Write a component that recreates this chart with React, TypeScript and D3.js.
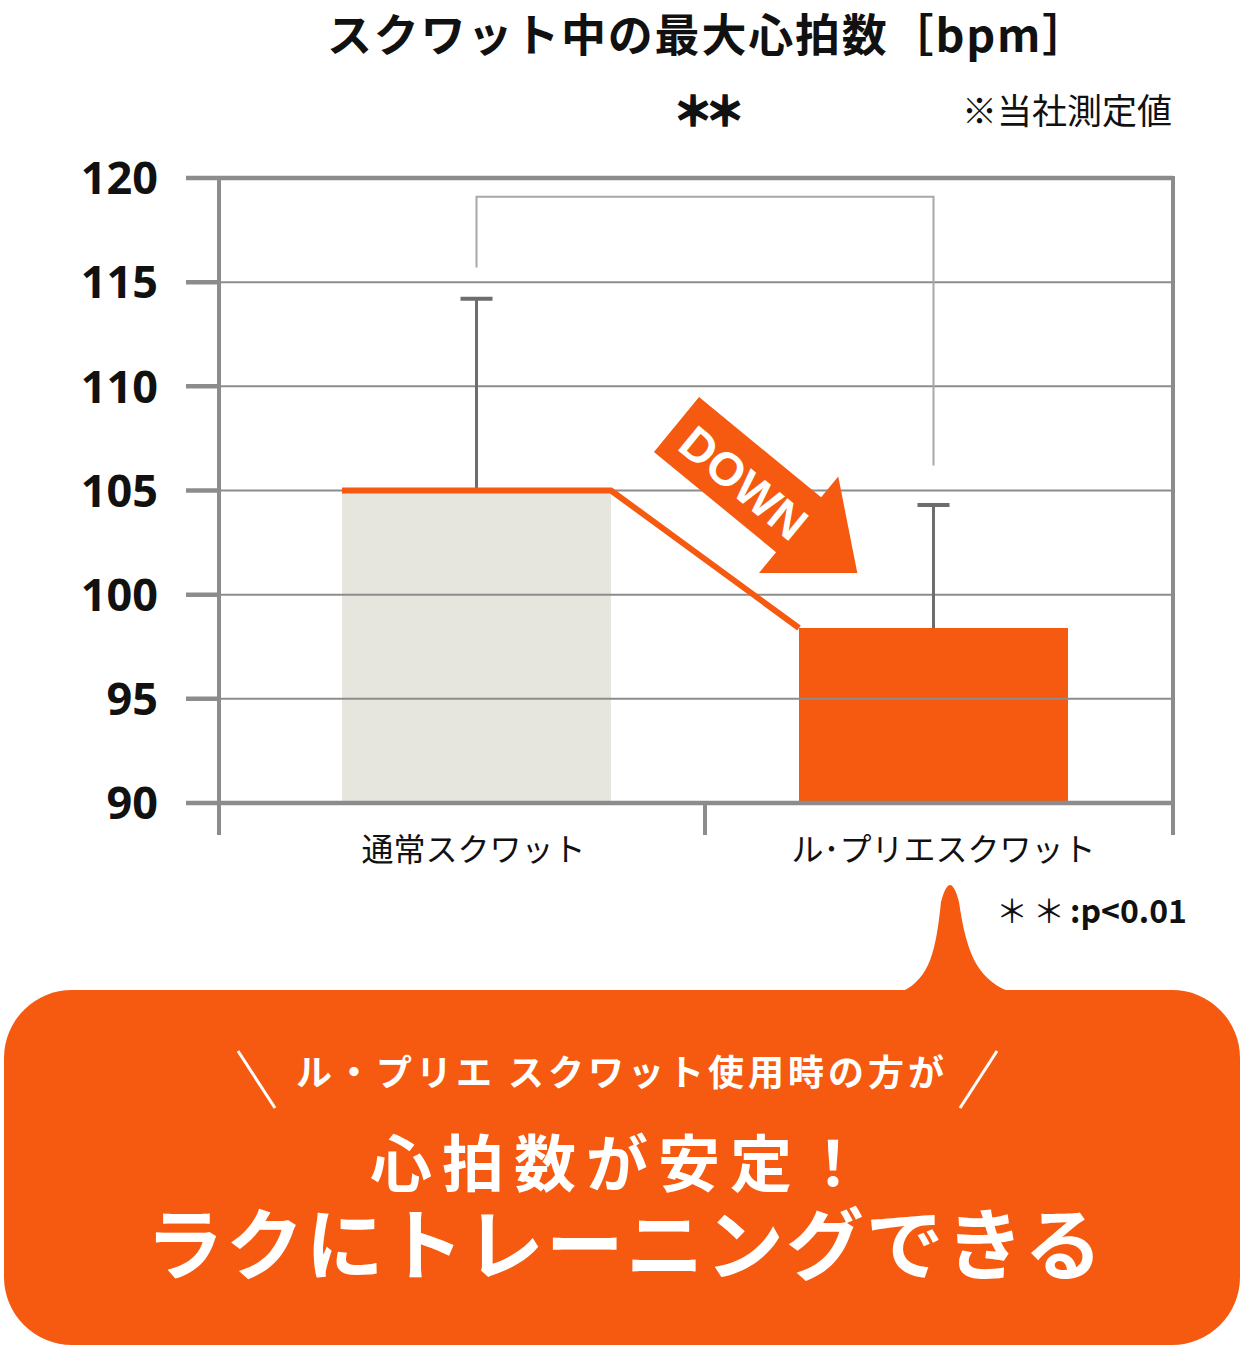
import React from "react";
import * as d3 from "d3";

// values
const categories = ["通常スクワット", "ル･プリエスクワット"];
const means = [105.0, 98.4];
const errors = [9.2, 5.9];
const yTicks = [90, 95, 100, 105, 110, 115, 120];
const bracketTop = 119.1;
const bracketLegs = [115.7, 106.2];

const W = 1245;
const H = 1348;
const ORANGE = "#f55a10";
const GRID = "#8c8c8c";
const JP = "'Noto Sans CJK JP', 'Noto Sans', sans-serif";
const LATIN = "'Noto Sans', 'Noto Sans CJK JP', sans-serif";

const frame = { left: 219, right: 1173, top: 178, bottom: 803 };
const barWidth = 269;

export default function App() {
  const y = d3.scaleLinear().domain([90, 120]).range([frame.bottom, frame.top]);
  const x = d3.scalePoint<string>().domain(categories).range([476.5, 933.5]);
  const mid = (x(categories[0])! + x(categories[1])!) / 2;

  const stepLine = d3
    .line<[number, number]>()
    .x((d) => d[0])
    .y((d) => y(d[1]));
  const linePts: [number, number][] = [
    [x(categories[0])! - barWidth / 2, means[0]],
    [x(categories[0])! + barWidth / 2, means[0]],
    [x(categories[1])! - barWidth / 2, means[1]],
  ];

  // DOWN arrow in its own frame, pointing along +x
  const arrow = d3.line()([
    [0, -35.5], [158, -35.5], [158, -62.5], [234, 0],
    [158, 62.5], [158, 35.5], [0, 35.5],
  ]) + "Z";

  const boxTop = 990;
  const tail = `M903,${boxTop + 1} C930,978 936,950 941,902 Q950,868 959,902 C966,950 976,978 1008,${boxTop + 1} Z`;

  return (
    <svg width={W} height={H} style={{ position: "absolute", left: 0, top: 0, background: "#fff" }}>
      {/* title */}
      <text x={708} y={36} dy="0.35em" textAnchor="middle" fontFamily={JP} fontWeight={700} fontSize={45} fill="#111" letterSpacing={1.8}>
        スクワット中の最大心拍数［bpm］
      </text>
      <text x={mid} y={112} dy="0.35em" textAnchor="middle" fontFamily={JP} fontWeight={900} fontSize={40} fill="#111" letterSpacing={-8}
        stroke="#111" strokeWidth={1.5}>
        ＊＊
      </text>
      <text x={1172} y={112} dy="0.35em" textAnchor="end" fontFamily={JP} fontSize={35} fill="#111">
        ※当社測定値
      </text>

      {/* bars */}
      {categories.map((c, i) => (
        <rect key={c} x={x(c)! - barWidth / 2} y={y(means[i])} width={barWidth}
          height={y(90) - y(means[i])} fill={i === 0 ? "#e6e6df" : ORANGE} />
      ))}

      {/* grid */}
      {yTicks.map((t) => (
        <g key={t}>
          <line x1={frame.left} x2={frame.right} y1={y(t)} y2={y(t)} stroke={GRID}
            strokeWidth={t === 90 || t === 120 ? 4.5 : 2} />
          <line x1={186} x2={frame.left} y1={y(t)} y2={y(t)} stroke={GRID} strokeWidth={4.5} />
          <text x={158} y={y(t)} dy="0.36em" textAnchor="end" fontFamily={LATIN} fontWeight={700} fontSize={45} fill="#111">
            {t}
          </text>
        </g>
      ))}
      <line x1={frame.left} x2={frame.left} y1={frame.top - 2} y2={835} stroke={GRID} strokeWidth={4} />
      <line x1={frame.right} x2={frame.right} y1={frame.top - 2} y2={835} stroke={GRID} strokeWidth={4} />
      <line x1={mid} x2={mid} y1={frame.bottom} y2={835} stroke={GRID} strokeWidth={4} />

      {/* error bars */}
      {categories.map((c, i) => {
        const cx = x(c)!;
        const top = y(means[i] + errors[i]);
        return (
          <g key={c} stroke="#6d6d6d">
            <line x1={cx} x2={cx} y1={y(means[i])} y2={top} strokeWidth={3} />
            <line x1={cx - 16} x2={cx + 16} y1={top} y2={top} strokeWidth={4} />
          </g>
        );
      })}

      {/* significance bracket */}
      <path
        d={`M${x(categories[0])},${y(bracketLegs[0])}V${y(bracketTop)}H${x(categories[1])}V${y(bracketLegs[1])}`}
        fill="none" stroke="#a8a8a8" strokeWidth={2} />

      {/* orange connector */}
      <path d={stepLine(linePts)!} fill="none" stroke={ORANGE} strokeWidth={6} strokeLinejoin="miter" />

      {/* DOWN arrow */}
      <g transform="translate(676.5,424.5) rotate(39.4)">
        <path d={arrow} fill={ORANGE} />
        <text x={89} y={2} dy="0.36em" textAnchor="middle" fontFamily="'Liberation Sans', Arial, sans-serif"
          fontWeight={700} fontSize={47} fill="#fff">
          DOWN
        </text>
      </g>

      {/* category labels */}
      {categories.map((c, i) => (
        <text key={c} x={x(c)! + (i === 0 ? -3 : 10)} y={850} dy="0.35em" textAnchor="middle" fontFamily={JP} fontSize={32} fill="#111">
          {c}
        </text>
      ))}
      <text x={1187} y={912} dy="0.35em" textAnchor="end" fontFamily={JP} fontSize={32} fill="#111">
        <tspan letterSpacing={5}>＊＊</tspan><tspan fontWeight={700}>:p&lt;0.01</tspan>
      </text>

      {/* callout */}
      <path d={tail} fill={ORANGE} />
      <rect x={4} y={boxTop} width={1236} height={355} rx={68} ry={68} fill={ORANGE} />
      <line x1={238} y1={1051} x2={275} y2={1108} stroke="#fff" strokeWidth={3} />
      <line x1={997} y1={1051} x2={960} y2={1108} stroke="#fff" strokeWidth={3} />
      <text x={622} y={1073} dy="0.35em" textAnchor="middle" fontFamily={JP} fontWeight={700} fontSize={36} fill="#fff" letterSpacing={4}>
        ル・プリエ スクワット使用時の方が
      </text>
      <text x={622} y={1165} dy="0.35em" textAnchor="middle" fontFamily={JP} fontWeight={700} fontSize={62} fill="#fff" letterSpacing={10}>
        心拍数が安定！
      </text>
      <text x={625} y={1247} dy="0.35em" textAnchor="middle" fontFamily={JP} fontWeight={700} fontSize={78} fill="#fff" letterSpacing={2}>
        ラクにトレーニングできる
      </text>
    </svg>
  );
}
